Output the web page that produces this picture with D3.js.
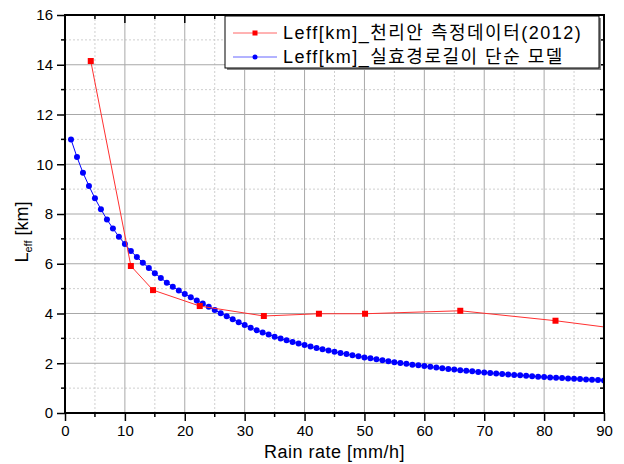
<!DOCTYPE html>
<html>
<head>
<meta charset="utf-8">
<script src="https://cdn.jsdelivr.net/npm/d3@7"></script>
<style>
  body { margin: 0; background: #fff; }
  svg { font-family: "Liberation Sans", Arial, "Noto Sans CJK KR", sans-serif; }
</style>
</head>
<body>
<div id="chart"></div>
<script>
'use strict';

/* measured data (Cheollian 2012) */
var measRate = [4.3, 11.0, 14.7, 22.5, 33.2, 42.4, 50.1, 66.0, 81.9, 100];
var measLeff = [14.15, 5.91, 4.94, 4.30, 3.90, 3.99, 3.99, 4.11, 3.71, 3.15];

/* simple effective path length model, 1..90 mm/h */
var modelRate = d3.range(1, 91);
var modelLeff = [
  11.00, 10.29, 9.66, 9.13, 8.63, 8.19, 7.78, 7.42, 7.09, 6.79,
  6.51, 6.27, 6.04, 5.83, 5.62, 5.43, 5.24, 5.08, 4.92, 4.78,
  4.65, 4.52, 4.40, 4.27, 4.14, 4.01, 3.89, 3.77, 3.65, 3.54,
  3.43, 3.33, 3.24, 3.16, 3.07, 2.99, 2.92, 2.85, 2.79, 2.73,
  2.67, 2.61, 2.56, 2.51, 2.46, 2.41, 2.37, 2.32, 2.28, 2.23,
  2.20, 2.16, 2.12, 2.08, 2.04, 2.01, 1.98, 1.94, 1.92, 1.89,
  1.86, 1.83, 1.80, 1.77, 1.75, 1.72, 1.70, 1.68, 1.65, 1.63,
  1.61, 1.59, 1.57, 1.55, 1.53, 1.52, 1.50, 1.48, 1.46, 1.45,
  1.43, 1.42, 1.41, 1.39, 1.38, 1.37, 1.35, 1.34, 1.33, 1.31
];

var xTicks = d3.range(0, 91, 10);
var yTicks = d3.range(0, 17, 2);
var legendLabels = ['Leff[km]_천리안 측정데이터(2012)', 'Leff[km]_실효경로길이 단순 모델'];

var width = 624, height = 464;
var pLeft = 65, pRight = 604, pTop = 15, pBottom = 413;

var svg = d3.select('#chart').append('svg')
  .attr('width', width)
  .attr('height', height);

var x = d3.scaleLinear().domain([0, 90]).range([pLeft, pRight]);
var y = d3.scaleLinear().domain([0, 16]).range([pBottom, pTop]);

svg.append('clipPath').attr('id', 'clip')
  .append('rect')
  .attr('x', pLeft).attr('y', pTop)
  .attr('width', pRight - pLeft).attr('height', pBottom - pTop);

/* grid - minor dotted */
var grid = svg.append('g');
d3.range(5, 90, 10).forEach(function(v) {
  grid.append('line')
    .attr('x1', x(v)).attr('x2', x(v)).attr('y1', pTop).attr('y2', pBottom)
    .attr('stroke', '#cfcfcf').attr('stroke-dasharray', '2,2');
});
d3.range(1, 16, 2).forEach(function(v) {
  grid.append('line')
    .attr('x1', pLeft).attr('x2', pRight).attr('y1', y(v)).attr('y2', y(v))
    .attr('stroke', '#cfcfcf').attr('stroke-dasharray', '2,2');
});
/* grid - major solid */
xTicks.slice(1, -1).forEach(function(v) {
  grid.append('line')
    .attr('x1', x(v)).attr('x2', x(v)).attr('y1', pTop).attr('y2', pBottom)
    .attr('stroke', '#a8a8a8');
});
yTicks.slice(1, -1).forEach(function(v) {
  grid.append('line')
    .attr('x1', pLeft).attr('x2', pRight).attr('y1', y(v)).attr('y2', y(v))
    .attr('stroke', '#a8a8a8');
});

/* data */
var plot = svg.append('g').attr('clip-path', 'url(#clip)');
var measData = measRate.map(function(r, i) { return [r, measLeff[i]]; });
var modelData = modelRate.map(function(r, i) { return [r, modelLeff[i]]; });
var line = d3.line()
  .x(function(d) { return x(d[0]); })
  .y(function(d) { return y(d[1]); });

plot.append('path').datum(modelData)
  .attr('d', line).attr('fill', 'none').attr('stroke', '#0000ff').attr('stroke-width', 1);
plot.selectAll('.dot').data(modelData).enter().append('circle')
  .attr('cx', function(d) { return x(d[0]); })
  .attr('cy', function(d) { return y(d[1]); })
  .attr('r', 3)
  .attr('fill', '#0000ff');

plot.append('path').datum(measData)
  .attr('d', line).attr('fill', 'none').attr('stroke', '#ff3030').attr('stroke-width', 1);
plot.selectAll('.sq').data(measData).enter().append('rect')
  .attr('x', function(d) { return x(d[0]) - 3; })
  .attr('y', function(d) { return y(d[1]) - 3; })
  .attr('width', 6).attr('height', 6)
  .attr('fill', '#ff0000');

/* axes */
var xAxis = svg.append('g').attr('transform', 'translate(0,' + pBottom + ')')
  .call(d3.axisBottom(x).tickValues(xTicks).tickSize(8).tickPadding(4));
var yAxis = svg.append('g').attr('transform', 'translate(' + pLeft + ',0)')
  .call(d3.axisLeft(y).tickValues(yTicks).tickSize(8).tickPadding(4));
[xAxis, yAxis].forEach(function(a) {
  a.select('.domain').remove();
  a.selectAll('text').attr('font-size', 15).attr('fill', '#000')
    .attr('font-family', '"Liberation Sans", Arial, sans-serif');
  a.selectAll('line').attr('stroke', '#000').attr('stroke-width', 1.5);
});

/* minor ticks + top/right inward ticks */
var ticks = svg.append('g').attr('stroke', '#000').attr('stroke-width', 1.5);
d3.range(5, 90, 10).forEach(function(v) {
  ticks.append('line').attr('x1', x(v)).attr('x2', x(v)).attr('y1', pBottom).attr('y2', pBottom + 4);
  ticks.append('line').attr('x1', x(v)).attr('x2', x(v)).attr('y1', pTop).attr('y2', pTop + 4);
});
d3.range(1, 16, 2).forEach(function(v) {
  ticks.append('line').attr('x1', pLeft - 4).attr('x2', pLeft).attr('y1', y(v)).attr('y2', y(v));
  ticks.append('line').attr('x1', pRight - 4).attr('x2', pRight).attr('y1', y(v)).attr('y2', y(v));
});
xTicks.forEach(function(v) {
  ticks.append('line').attr('x1', x(v)).attr('x2', x(v)).attr('y1', pTop).attr('y2', pTop + 8);
});
yTicks.forEach(function(v) {
  ticks.append('line').attr('x1', pRight - 8).attr('x2', pRight).attr('y1', y(v)).attr('y2', y(v));
});

/* frame */
svg.append('rect')
  .attr('x', pLeft).attr('y', pTop)
  .attr('width', pRight - pLeft).attr('height', pBottom - pTop)
  .attr('fill', 'none').attr('stroke', '#000').attr('stroke-width', 2);

/* axis titles */
svg.append('text')
  .attr('x', (pLeft + pRight) / 2).attr('y', 458)
  .attr('text-anchor', 'middle').attr('font-size', 18)
  .attr('letter-spacing', 0.5)
  .text('Rain rate [mm/h]');

var yl = svg.append('text')
  .attr('transform', 'translate(28,' + ((pTop + pBottom) / 2 + 18) + ') rotate(-90)')
  .attr('text-anchor', 'middle').attr('font-size', 18);
yl.append('tspan').text('L');
yl.append('tspan').attr('font-size', 11).attr('dy', 4).text('eff');
yl.append('tspan').attr('dy', -4).text(' [km]');

/* legend */
var lg = svg.append('g');
lg.append('rect')
  .attr('x', 227).attr('y', 18).attr('width', 374).attr('height', 52)
  .attr('fill', '#888');
lg.append('rect')
  .attr('x', 225).attr('y', 16).attr('width', 374).attr('height', 52)
  .attr('fill', '#fff').attr('stroke', '#000').attr('stroke-width', 1);
var colors = ['#ff0000', '#0000ff'];
legendLabels.forEach(function(label, i) {
  var cy = 33 + i * 24;
  lg.append('line').attr('x1', 233).attr('x2', 277).attr('y1', cy).attr('y2', cy)
    .attr('stroke', colors[i]).attr('stroke-opacity', 0.6);
  if (i === 0) {
    lg.append('rect').attr('x', 252.5).attr('y', cy - 2.5).attr('width', 5).attr('height', 5)
      .attr('fill', colors[i]);
  } else {
    lg.append('circle').attr('cx', 255).attr('cy', cy).attr('r', 2.5).attr('fill', colors[i]);
  }
  lg.append('text').attr('x', 283).attr('y', cy + 6)
    .attr('font-size', 18).attr('letter-spacing', 1.5).text(label);
});
</script>
</body>
</html>
